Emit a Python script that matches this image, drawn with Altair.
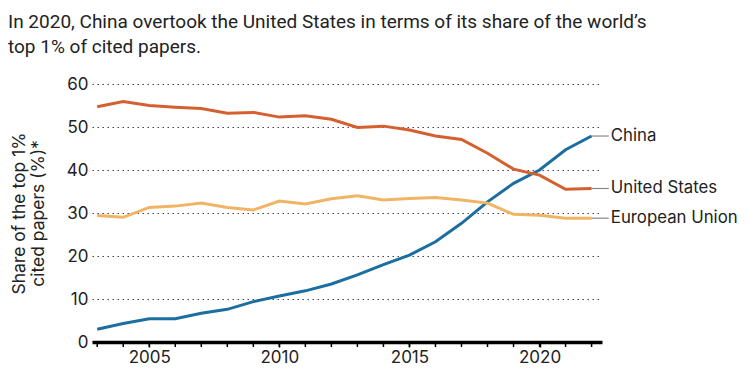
import altair as alt
import pandas as pd

years = list(range(2003, 2023))
china = [2.95, 4.3, 5.4, 5.4, 6.7, 7.6, 9.4, 10.7, 11.9, 13.5, 15.6, 18.0, 20.2, 23.3, 27.6, 32.6, 36.9, 40.0, 44.7, 47.9]
us = [54.7, 55.9, 55.0, 54.6, 54.3, 53.2, 53.4, 52.3, 52.6, 51.8, 49.9, 50.2, 49.3, 47.9, 47.1, 43.9, 40.2, 38.8, 35.5, 35.7]
eu = [29.4, 29.0, 31.3, 31.6, 32.3, 31.3, 30.7, 32.8, 32.1, 33.3, 34.0, 33.0, 33.4, 33.6, 33.0, 32.3, 29.7, 29.5, 28.8, 28.8]
series = ["China", "United States", "European Union"]
colors = ["#1b6e9f", "#d4602f", "#f0b464"]
label_years = [2005, 2010, 2015, 2020]
subtitle = ["In 2020, China overtook the United States in terms of its share of the world\u2019s",
            "top 1% of cited papers."]

rows = []
for name, vals in zip(series, [china, us, eu]):
    for y, v in zip(years, vals):
        rows.append({"year": y, "share": v, "series": name})
df = pd.DataFrame(rows)
last = df[df["year"] == years[-1]].copy()
last["x2"] = years[-1] + 0.66
last["xt"] = years[-1] + 0.7
ticks_df = pd.DataFrame({"year": years})

FONT = "Inter"
xscale = alt.Scale(domain=[2002.8, 2022.4], nice=False, zero=False)
yscale = alt.Scale(domain=[0, 60], nice=False)
cscale = alt.Scale(domain=series, range=colors)

lines = alt.Chart(df).mark_line(strokeWidth=3).encode(
    x=alt.X("year:Q", scale=xscale, title=None,
            axis=alt.Axis(values=label_years, format="d", labelOverlap=False,
                          domainColor="#000", domainWidth=3.5, tickColor="#000",
                          tickWidth=1.5, tickSize=5, labelFontSize=17, labelFont=FONT,
                          labelColor="#222", labelPadding=2, grid=False)),
    y=alt.Y("share:Q", scale=yscale,
            title=["Share of the top 1%", "cited papers (%)*"],
            axis=alt.Axis(values=[0, 10, 20, 30, 40, 50, 60], domain=False, ticks=False,
                          labelFontSize=17, labelFont=FONT, labelColor="#222",
                          labelPadding=4, grid=True, gridDash=[1.5, 3.5],
                          gridColor="#444", gridWidth=1.2,
                          titleFont=FONT, titleFontSize=17.5, titleFontWeight="normal",
                          titleColor="#222", titlePadding=19, titleLineHeight=19)),
    color=alt.Color("series:N", scale=cscale, legend=None),
    order="year:Q",
)

year_ticks = alt.Chart(ticks_df).mark_rule(color="#000", strokeWidth=1.5).encode(
    x=alt.X("year:Q", scale=xscale),
    y=alt.value(258), y2=alt.value(263),
)

leaders = alt.Chart(last).mark_rule(color="#888", strokeWidth=1.2).encode(
    x=alt.X("year:Q", scale=xscale), x2="x2:Q", y=alt.Y("share:Q", scale=yscale)
)
labels = alt.Chart(last).mark_text(align="left", baseline="middle", dx=1,
                                   font=FONT, fontSize=16.8, color="#222").encode(
    x=alt.X("xt:Q", scale=xscale), y=alt.Y("share:Q", scale=yscale), text="series:N"
)

chart = alt.layer(lines, year_ticks, leaders, labels).properties(
    width=510, height=258,
    autosize=alt.AutoSizeParams(type="none"),
    padding={"left": 84, "top": 76, "right": 140, "bottom": 25},
    title=alt.Title(subtitle, anchor="start", frame="group", dx=-84, offset=18,
                    font="Roboto", fontSize=19, fontWeight="normal",
                    color="#222", lineHeight=25),
).configure_view(stroke=None)

chart.save("out.html", embed_options={"renderer": "svg", "actions": False})
